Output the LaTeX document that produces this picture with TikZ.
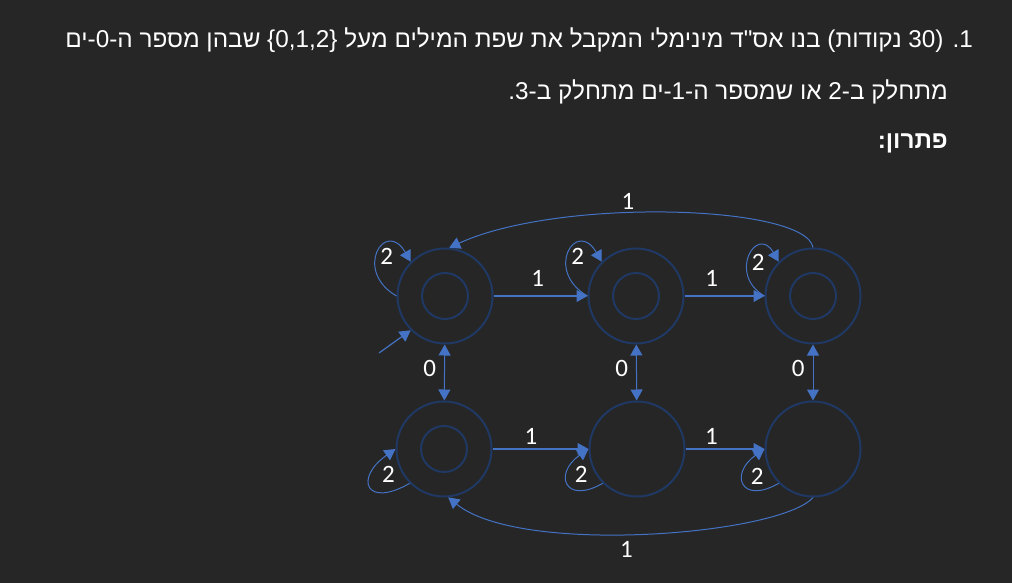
\documentclass[tikz,border=0pt]{standalone}
\usepackage{fontspec}
\usetikzlibrary{arrows.meta}
\setmainfont{Liberation Sans}
\newfontfamily\hebfont[Script=Hebrew]{Liberation Sans}
\newfontfamily\lblfont{Carlito}
\TeXXeTstate=1
\definecolor{bgdark}{RGB}{38,38,38}
\definecolor{ringblue}{RGB}{31,56,100}
\definecolor{arrowblue}{RGB}{68,114,196}

\begin{document}
\begin{tikzpicture}[x=1pt,y=1pt,>={Triangle[length=11pt,width=12pt]},
  stnode/.style={circle,draw=ringblue,line width=2pt,minimum size=95pt,inner sep=0pt},
  accept/.style={path picture={\draw[ringblue,line width=2pt] (path picture bounding box.center) circle (23pt);}},
  trans/.style={arrowblue,line width=1.2pt,->},
  lbl/.style={text=white,font=\lblfont\fontsize{25}{25}\selectfont,inner sep=2pt},
  heb/.style={text=white,font=\hebfont\fontsize{24.3}{29}\selectfont,inner sep=0pt,anchor=base east}]
\fill[bgdark] (0,0) rectangle (1012,-583);
\useasboundingbox (0,0) rectangle (1012,-583);

\node[heb] (line1) at (973,-48) {\beginR 1. (30 נקודות) בנו אס"ד מינימלי המקבל את שפת המילים מעל \{0,1,2\} שבהן מספר ה-0-ים\endR};
\node[heb] (line2) at (948,-100) {\beginR מתחלק ב-2 או שמספר ה-1-ים מתחלק ב-3.\endR};
\node[heb,font=\hebfont\bfseries\fontsize{24.3}{29}\selectfont] (line3) at (948,-149) {\beginR פתרון:\endR};

\node[stnode,accept] (q0) at (445,-296) {};
\node[stnode,accept] (q1) at (636,-296) {};
\node[stnode,accept] (q2) at (813,-296) {};
\node[stnode,accept] (q3) at (444,-449) {};
\node[stnode] (q4) at (637,-449) {};
\node[stnode] (q5) at (813,-449) {};

\coordinate (init) at (379,-353);
\draw[trans] (init) -- (q0.225);

\draw[trans] (q0) -- node[lbl,pos=0.47,above=7pt]{1} (q1);
\draw[trans] (q1) -- node[lbl,pos=0.34,above=7pt]{1} (q2);
\draw[trans] (q3) -- node[lbl,pos=0.4,above=2pt]{1} (q4);
\draw[trans] (q4) -- node[lbl,pos=0.33,above=2pt]{1} (q5);

\draw[trans,<->,line width=1pt] (q0) -- node[lbl,pos=0.42,left=6pt]{0} (q3);
\draw[trans,<->,line width=1pt] (q1) -- node[lbl,pos=0.42,left=6pt]{0} (q4);
\draw[trans,<->,line width=1pt] (q2) -- node[lbl,pos=0.42,left=6pt]{0} (q5);

\draw[trans,line width=1pt] (q0.180) to[out=150,in=120,looseness=3.5] node[lbl,pos=0.5,xshift=9pt,yshift=-4pt]{2} (q0.135);
\draw[trans,line width=1pt] (q1.180) to[out=150,in=120,looseness=3.5] node[lbl,pos=0.5,xshift=9pt,yshift=-4pt]{2} (q1.135);
\draw[trans,line width=1pt] (q2.180) to[out=150,in=120,looseness=3] node[lbl,pos=0.5,xshift=9pt,yshift=-6pt]{2} (q2.135);
\draw[trans,line width=1pt] (q3.225) to[out=210,in=215,looseness=3.5] node[lbl,pos=0.5,xshift=18pt,yshift=12pt]{2} (q3.180);
\draw[trans,line width=1pt] (q4.225) to[out=210,in=215,looseness=3] node[lbl,pos=0.5,xshift=13pt,yshift=9pt]{2} (q4.180);
\draw[trans,line width=1pt] (q5.225) to[out=210,in=215,looseness=3] node[lbl,pos=0.5,xshift=13pt,yshift=7pt]{2} (q5.180);

\draw[trans,line width=1pt] (q2.north) .. controls (806,-205) and (560,-197) .. node[lbl,pos=0.59,above=1pt]{1} (q0.85);
\draw[trans,line width=1pt] (q5.south) .. controls (780,-535) and (520,-556) .. node[lbl,pos=0.54,below=5pt]{1} (q3.-85);
\end{tikzpicture}
\end{document}
